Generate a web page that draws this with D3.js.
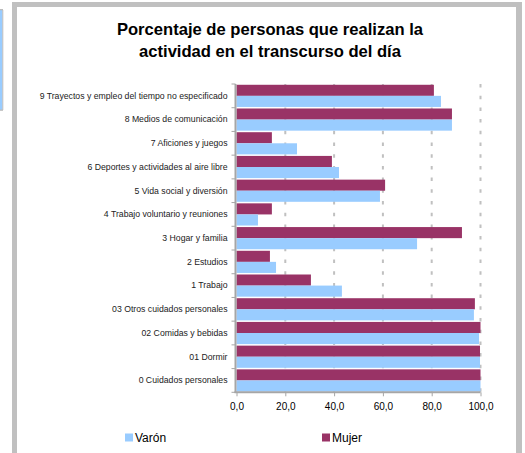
<!DOCTYPE html>
<html><head><meta charset="utf-8">
<script src="https://cdn.jsdelivr.net/npm/d3@7"></script>
<style>body{margin:0;background:#fff}svg{display:block}</style>
</head><body>
<script>
const categories = ["9 Trayectos y empleo del tiempo no especificado","8 Medios de comunicación","7 Aficiones y juegos","6 Deportes y actividades al aire libre","5 Vida social y diversión","4 Trabajo voluntario y reuniones","3 Hogar y familia","2 Estudios","1 Trabajo","03 Otros cuidados personales","02 Comidas y bebidas","01 Dormir","0 Cuidados personales"];
const mujer = [80.9, 88.3, 14.5, 39.1, 60.9, 14.5, 92.4, 13.7, 30.5, 97.7, 100.0, 99.8, 100.0];
const varon = [83.8, 88.3, 24.8, 42.0, 58.8, 8.8, 74.0, 16.2, 43.2, 97.3, 99.4, 99.8, 100.0];
const seriesNames = ["Mujer", "Varón"];
const xTicks = [0, 20, 40, 60, 80, 100];
const titleLines = ["Porcentaje de personas que realizan la", "actividad en el transcurso del día"];

const W = 525, H = 453;
const colors = {"Mujer": "#993366", "Varón": "#99CCFF"};
const svg = d3.select("body").append("svg").attr("width", W).attr("height", H);
const font = "'Liberation Sans', Arial, sans-serif";

// frame
svg.append("rect").attr("x",12).attr("y",2).attr("width",510).attr("height",H).attr("fill","#c0c0c0");
svg.append("rect").attr("x",17).attr("y",7).attr("width",499).attr("height",H).attr("fill","#fff");
// left remnant
svg.append("rect").attr("x",0).attr("y",10).attr("width",2.5).attr("height",100).attr("fill","#99ccff");
svg.append("line").attr("x1",2.8).attr("x2",2.8).attr("y1",10).attr("y2",110).attr("stroke","#bbb").attr("stroke-width",1);
svg.append("rect").attr("x",0).attr("y",9).attr("width",3).attr("height",1.3).attr("fill","#bbb");
svg.append("rect").attr("x",0).attr("y",109.5).attr("width",3).attr("height",1.3).attr("fill","#bbb");

// title
svg.append("text").attr("x",270).attr("y",34.5).attr("text-anchor","middle")
  .attr("font-family",font).attr("font-weight","bold").attr("font-size",16.6).attr("fill","#000")
  .selectAll("tspan").data(titleLines).join("tspan")
  .attr("x",270).attr("dy",(d,i)=> i? 22.5 : 0).text(d=>d);

const x = d3.scaleLinear().domain([0,100]).range([236.5,480.5]);
const y = d3.scaleBand().domain(categories).range([84,392.3]).padding(0);
const sub = d3.scaleBand().domain(seriesNames).range([0,y.bandwidth()]).paddingInner(0).paddingOuter(0.07);

// gridlines
svg.append("g").selectAll("line").data(xTicks.filter(d=>d>0)).join("line")
  .attr("x1",d=>x(d)).attr("x2",d=>x(d)).attr("y1",84).attr("y2",392)
  .attr("stroke","#c0c0c0").attr("stroke-width",2).attr("stroke-dasharray","3.5,8.2");

// bars
const rows = categories.map((c,i)=>({c, Mujer: mujer[i], "Varón": varon[i]}));
const g = svg.append("g");
rows.forEach(r=>{
  seriesNames.forEach(s=>{
    g.append("rect").attr("x",x(0)).attr("y",y(r.c)+sub(s))
      .attr("width",x(r[s])-x(0)).attr("height",sub.bandwidth()).attr("fill",colors[s]);
  });
});

// axes
const yAxis = d3.axisLeft(y).tickSize(0).tickPadding(8);
const ya = svg.append("g").attr("transform",`translate(${x(0)-1},0)`).call(yAxis);
ya.select(".domain").remove();
ya.selectAll("text").attr("font-family",font).attr("font-size",8.7).attr("fill","#222");
// y axis line and ticks
svg.append("line").attr("x1",x(0)-1).attr("x2",x(0)-1).attr("y1",84).attr("y2",393).attr("stroke","#a6a6a6").attr("stroke-width",2);
const yTickPos = categories.map(c=>y(c)).concat([y.range()[1]]);
svg.append("g").selectAll("line").data(yTickPos).join("line")
  .attr("x1",x(0)-5).attr("x2",x(0)-1).attr("y1",d=>d).attr("y2",d=>d).attr("stroke","#a6a6a6").attr("stroke-width",1);

const xAxis = d3.axisBottom(x).tickValues(xTicks).tickSize(4).tickPadding(7)
  .tickFormat(d=>d3.format(".1f")(d).replace(".",","));
const xa = svg.append("g").attr("transform",`translate(0,392.3)`).call(xAxis);
xa.select(".domain").attr("stroke","#a6a6a6").attr("stroke-width",2).attr("d",`M${x(0)-2},0H${x(100)}`);
xa.selectAll(".tick line").attr("stroke","#a6a6a6");
xa.selectAll("text").attr("font-family",font).attr("font-size",10).attr("fill","#000");

// legend
const legend = [{n:"Varón", x:125},{n:"Mujer", x:322}];
legend.forEach(l=>{
  svg.append("rect").attr("x",l.x).attr("y",433.5).attr("width",8).attr("height",8).attr("fill",colors[l.n]);
  svg.append("text").attr("x",l.x+10).attr("y",441.5).attr("font-family",font).attr("font-size",12).attr("fill","#000").text(l.n);
});
</script>
</body></html>
